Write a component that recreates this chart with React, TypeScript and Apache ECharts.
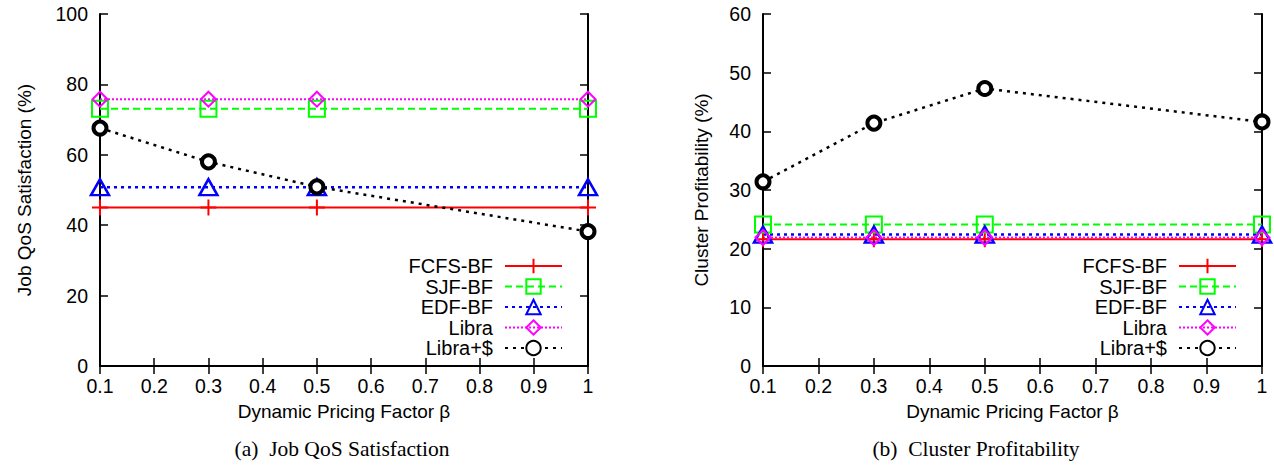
import React, { useEffect, useRef } from "react";
import * as echarts from "echarts";

const betas = [0.1, 0.3, 0.5, 1.0];
const seriesNames = ["FCFS-BF", "SJF-BF", "EDF-BF", "Libra", "Libra+$"];

// (a) Job QoS Satisfaction (%)
const qosFCFS = [45.0, 45.0, 45.0, 45.0];
const qosSJF = [73.1, 73.1, 73.1, 73.1];
const qosEDF = [50.8, 50.8, 50.8, 50.8];
const qosLibra = [75.8, 75.8, 75.8, 75.8];
const qosLibraD = [67.6, 58.0, 50.9, 38.2];

// (b) Cluster Profitability (%)
const profFCFS = [21.6, 21.6, 21.6, 21.6];
const profSJF = [24.1, 24.1, 24.1, 24.1];
const profEDF = [22.4, 22.4, 22.4, 22.4];
const profLibra = [21.9, 21.9, 21.9, 21.9];
const profLibraD = [31.4, 41.4, 47.3, 41.6];

const xTicks = { min: 0.1, max: 1, interval: 0.1 };
const yTicksA = { min: 0, max: 100, interval: 20 };
const yTicksB = { min: 0, max: 60, interval: 10 };

const captions = ["(a)  Job QoS Satisfaction", "(b)  Cluster Profitability"];
const xName = "Dynamic Pricing Factor β";
const yNames = ["Job QoS Satisfaction (%)", "Cluster Profitability (%)"];

const SANS = "'Liberation Sans', Arial, Helvetica, sans-serif";
const SERIF = "'Liberation Serif', 'Times New Roman', serif";

const styles: Record<string, any> = {
  "FCFS-BF": {
    symbol: "path://M8,0L8,16M0,8L16,8",
    symbolSize: 16,
    itemStyle: { color: "#ff0000", borderColor: "#ff0000", borderWidth: 2 },
    lineStyle: { color: "#ff0000", width: 2, type: "solid" },
  },
  "SJF-BF": {
    symbol: "rect",
    symbolSize: 16,
    itemStyle: { color: "rgba(255,255,255,0)", borderColor: "#00ff00", borderWidth: 2 },
    lineStyle: { color: "#00ff00", width: 2, type: [7, 4] },
  },
  "EDF-BF": {
    symbol: "triangle",
    symbolSize: [18, 16],
    itemStyle: { color: "rgba(255,255,255,0)", borderColor: "#0000ff", borderWidth: 2.5 },
    lineStyle: { color: "#0000ff", width: 2.5, type: [3, 4] },
  },
  Libra: {
    symbol: "diamond",
    symbolSize: 15,
    itemStyle: { color: "rgba(255,255,255,0)", borderColor: "#ff00ff", borderWidth: 2 },
    lineStyle: { color: "#ff00ff", width: 2, type: [2, 2] },
  },
  "Libra+$": {
    symbol: "circle",
    symbolSize: 13,
    itemStyle: { color: "#ffffff", borderColor: "#000000", borderWidth: 4 },
    lineStyle: { color: "#000000", width: 2.5, type: [3, 5] },
  },
};

function makeSeries(name: string, vals: number[], gi: number) {
  const s = styles[name];
  return {
    type: "line",
    name,
    xAxisIndex: gi * 2,
    yAxisIndex: gi * 2,
    data: betas.map((b, i) => [b, vals[i]]),
    symbol: s.symbol,
    symbolSize: s.symbolSize,
    showAllSymbol: true,
    itemStyle: s.itemStyle,
    lineStyle: s.lineStyle,
    z: name === "Libra+$" ? 5 : 3,
    emphasis: { disabled: true },
  };
}

export default function App() {
  const ref = useRef<HTMLDivElement>(null);
  useEffect(() => {
    if (!ref.current) return;
    const chart = echarts.init(ref.current, undefined, { renderer: "svg" });
    const grids = [
      { left: 100, top: 14, width: 488, height: 352 },
      { left: 763, top: 14, width: 499, height: 352 },
    ];
    const yT = [yTicksA, yTicksB];
    const xAxes: any[] = [];
    const yAxes: any[] = [];
    grids.forEach((g, gi) => {
      const axisLine = { show: true, lineStyle: { color: "#000", width: 2 } };
      const tick = { show: true, inside: true, length: 8, lineStyle: { color: "#000", width: 1.5 } };
      xAxes.push({
        type: "value",
        gridIndex: gi,
        position: "bottom",
        min: xTicks.min,
        max: xTicks.max,
        interval: xTicks.interval,
        name: xName,
        nameLocation: "middle",
        nameGap: 36,
        nameTextStyle: { fontSize: 19, color: "#000", fontFamily: SANS },
        axisLine,
        axisTick: tick,
        splitLine: { show: false },
        axisLabel: {
          fontSize: 19.5,
          color: "#000",
          fontFamily: SANS,
          margin: 10,
          formatter: (v: number) => String(parseFloat(v.toFixed(1))),
        },
      });
      xAxes.push({
        type: "value",
        gridIndex: gi,
        position: "top",
        min: xTicks.min,
        max: xTicks.max,
        interval: xTicks.interval,
        axisLine,
        axisTick: tick,
        splitLine: { show: false },
        axisLabel: { show: false },
      });
      yAxes.push({
        type: "value",
        gridIndex: gi,
        position: "left",
        min: yT[gi].min,
        max: yT[gi].max,
        interval: yT[gi].interval,
        name: yNames[gi],
        nameLocation: "middle",
        nameGap: gi === 0 ? 66 : 52,
        nameTextStyle: { fontSize: 19, color: "#000", fontFamily: SANS },
        axisLine,
        axisTick: tick,
        splitLine: { show: false },
        axisLabel: { fontSize: 19.5, color: "#000", fontFamily: SANS, margin: 12 },
      });
      yAxes.push({
        type: "value",
        gridIndex: gi,
        position: "right",
        min: yT[gi].min,
        max: yT[gi].max,
        interval: yT[gi].interval,
        axisLine,
        axisTick: tick,
        splitLine: { show: false },
        axisLabel: { show: false },
      });
    });

    const dataA = [qosFCFS, qosSJF, qosEDF, qosLibra, qosLibraD];
    const dataB = [profFCFS, profSJF, profEDF, profLibra, profLibraD];
    const series: any[] = [];
    seriesNames.forEach((n, i) => series.push(makeSeries(n, dataA[i], 0)));
    seriesNames.forEach((n, i) => series.push(makeSeries(n, dataB[i], 1)));

    const rowTops = [256, 276.5, 297, 317.5, 338];
    const legendRights = [711, 37];
    const legends: any[] = [];
    legendRights.forEach((r) => {
      seriesNames.forEach((n, i) => {
        legends.push({
          data: [n],
          right: r,
          top: rowTops[i],
          orient: "vertical",
          align: "right",
          itemWidth: 57,
          itemHeight: 18,
          padding: 0,
          selectedMode: false,
          textStyle: { fontSize: 20, color: "#000", fontFamily: SANS, padding: [0, 7, 0, 0] },
        });
      });
    });

    chart.setOption({
      animation: false,
      backgroundColor: "#ffffff",
      grid: grids,
      xAxis: xAxes,
      yAxis: yAxes,
      legend: legends,
      series,
      graphic: [
        {
          type: "text",
          x: 342,
          y: 449,
          style: {
            text: captions[0],
            fontSize: 21.5,
            fontFamily: SERIF,
            fill: "#000",
            textAlign: "center",
            textVerticalAlign: "middle",
          },
        },
        {
          type: "text",
          x: 976,
          y: 449,
          style: {
            text: captions[1],
            fontSize: 21.5,
            fontFamily: SERIF,
            fill: "#000",
            textAlign: "center",
            textVerticalAlign: "middle",
          },
        },
      ],
    });
    return () => chart.dispose();
  }, []);
  return (
    <div
      ref={ref}
      style={{ position: "absolute", left: 0, top: 0, width: 1274, height: 466 }}
    />
  );
}
